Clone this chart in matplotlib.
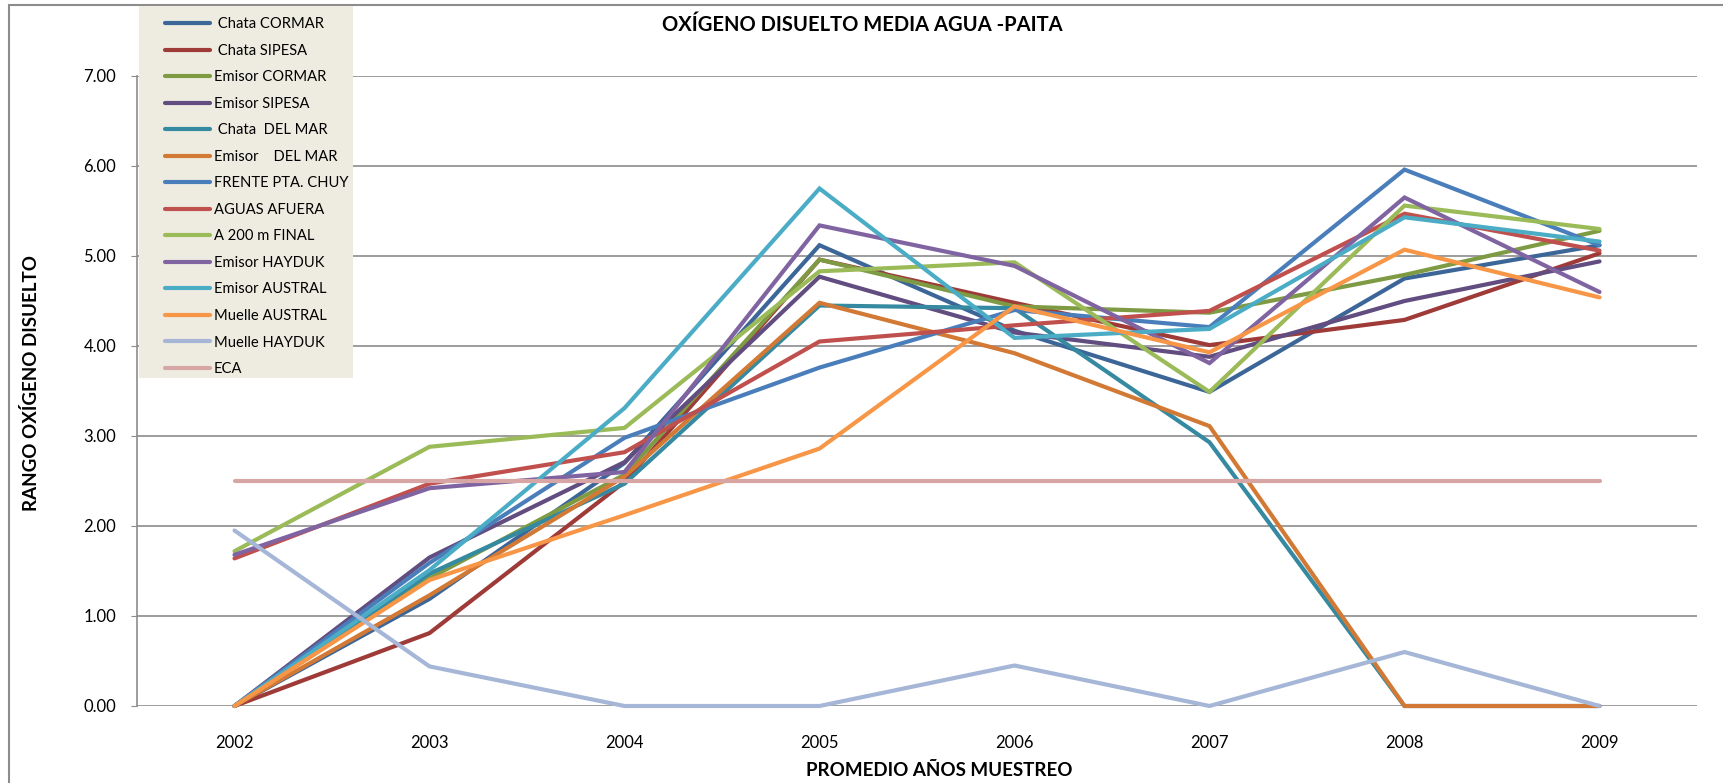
import matplotlib.pyplot as plt
from matplotlib.patches import Rectangle

plt.rcParams['font.family'] = ['Lato', 'DejaVu Sans']

years = ['2002', '2003', '2004', '2005', '2006', '2007', '2008', '2009']

chata_cormar = [0.00, 1.19, 2.70, 5.12, 4.17, 3.49, 4.75, 5.12]
chata_sipesa = [0.00, 0.81, 2.49, 4.96, 4.48, 4.01, 4.29, 5.03]
emisor_cormar = [0.00, 1.42, 2.57, 4.96, 4.44, 4.37, 4.79, 5.28]
emisor_sipesa = [0.00, 1.65, 2.71, 4.77, 4.15, 3.88, 4.50, 4.94]
chata_delmar = [0.00, 1.47, 2.47, 4.45, 4.42, 2.93, 0.00, 0.00]
emisor_delmar = [0.00, 1.23, 2.55, 4.48, 3.92, 3.11, 0.00, 0.00]
frente_chuy = [0.00, 1.59, 2.98, 3.76, 4.40, 4.21, 5.96, 5.12]
aguas_afuera = [1.64, 2.47, 2.82, 4.05, 4.23, 4.39, 5.47, 5.06]
a200_final = [1.72, 2.88, 3.09, 4.83, 4.93, 3.49, 5.56, 5.30]
emisor_hayduk = [1.68, 2.42, 2.60, 5.34, 4.89, 3.81, 5.65, 4.60]
emisor_austral = [0.00, 1.51, 3.31, 5.75, 4.09, 4.19, 5.43, 5.16]
muelle_austral = [0.00, 1.40, 2.12, 2.86, 4.44, 3.93, 5.07, 4.54]
muelle_hayduk = [1.95, 0.44, 0.00, 0.00, 0.45, 0.00, 0.60, 0.00]
eca = [2.5] * 8

series = [
    (' Chata CORMAR', chata_cormar, '#3C6698'),
    (' Chata SIPESA', chata_sipesa, '#9E3B38'),
    ('Emisor CORMAR', emisor_cormar, '#7E9B43'),
    ('Emisor SIPESA', emisor_sipesa, '#624D80'),
    (' Chata  DEL MAR', chata_delmar, '#3589A0'),
    ('Emisor    DEL MAR', emisor_delmar, '#D27A35'),
    ('FRENTE PTA. CHUY', frente_chuy, '#4A7EBB'),
    ('AGUAS AFUERA', aguas_afuera, '#C0504D'),
    ('A 200 m FINAL', a200_final, '#9BBB59'),
    ('Emisor HAYDUK', emisor_hayduk, '#8064A2'),
    ('Emisor AUSTRAL', emisor_austral, '#4BACC6'),
    ('Muelle AUSTRAL', muelle_austral, '#F79646'),
    ('Muelle HAYDUK', muelle_hayduk, '#A5B6D7'),
    ('ECA', eca, '#D8A5A5'),
]

W, H = 1723, 783
fig = plt.figure(figsize=(W / 100, H / 100), dpi=100)
ax = fig.add_axes([137 / W, 1 - 706 / H, (1697 - 137) / W, (706 - 76) / H])

x = list(range(len(years)))
handles = []
for name, vals, col in series:
    ln, = ax.plot(x, vals, color=col, lw=3.0, label=name, clip_on=False,
                  solid_capstyle='round', solid_joinstyle='miter')
    handles.append(ln)

ax.set_xlim(-0.5, len(years) - 0.5)
ax.set_ylim(0, 7)
ax.set_yticks(range(8))
ax.set_yticklabels([f'{v:.2f}' for v in range(8)])
ax.set_xticks(x)
ax.set_xticklabels(years)
ax.yaxis.grid(True, color='#8C8C8C', lw=1.2)
ax.set_axisbelow(True)
for s in ['top', 'right', 'bottom']:
    ax.spines[s].set_visible(False)
ax.spines['left'].set_color('#8C8C8C')
ax.spines['left'].set_linewidth(1.2)
ax.tick_params(axis='y', length=4, color='#8C8C8C', pad=11, labelsize=12)
ax.tick_params(axis='x', length=0, pad=21, labelsize=12)

fig.text(862 / W, 1 - 25 / H, 'OXÍGENO DISUELTO MEDIA AGUA -PAITA',
         ha='center', va='center', fontsize=14.5, fontweight='bold')
fig.text(31 / W, 1 - 383 / H, 'RANGO OXÍGENO DISUELTO', rotation=90,
         ha='center', va='center', fontsize=13.5, fontweight='bold')
fig.text(939 / W, 1 - 771 / H, 'PROMEDIO AÑOS MUESTREO',
         ha='center', va='center', fontsize=13.5, fontweight='bold')

# chart border
fig.patches.append(Rectangle((9 / W, -0.05), 1.1, 1 - 5 / H + 0.05,
                             transform=fig.transFigure, fill=False,
                             edgecolor='#8C8C8C', lw=1.5, zorder=1))
# legend background
fig.patches.append(Rectangle((139 / W, 1 - 378 / H), (353 - 139) / W, (378 - 6) / H,
                             transform=fig.transFigure, facecolor='#EEECE1',
                             edgecolor='none', zorder=3))
leg = fig.legend(handles=handles, loc='upper left',
                 bbox_to_anchor=(158 / W, 1 - 10 / H), frameon=False,
                 fontsize=10.6, borderpad=0, labelspacing=0.85,
                 handlelength=3.0, handletextpad=0.3)
leg.set_zorder(4)

fig.savefig('out.png', dpi=100)
